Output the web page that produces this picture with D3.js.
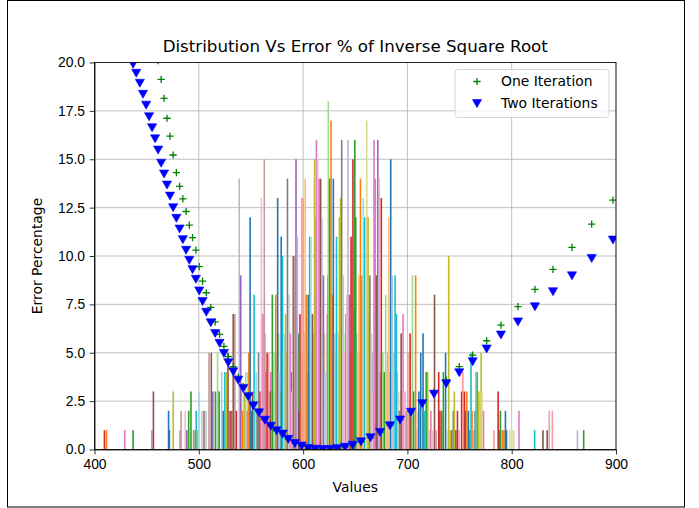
<!DOCTYPE html>
<html>
<head>
<meta charset="utf-8">
<script src="https://cdn.jsdelivr.net/npm/d3@7"></script>
<style>
  body { margin: 0; background: #fff; }
  svg { font-family: 'DejaVu Sans', sans-serif; }
  .axis text { font-size: 13.9px; fill: #000; }
  .axis path, .axis line { stroke: #000; stroke-width: 0.8; }
  .grid line { stroke: #b0b0b0; stroke-width: 0.8; }
</style>
</head>
<body>
<div id="chart"></div>
<script>
var X_TICKS = [400, 500, 600, 700, 800, 900]
var Y_TICKS = [0, 2.5, 5, 7.5, 10, 12.5, 15, 17.5, 20]

var BAR_COLORS = ['#1f77b4', '#aec7e8', '#ff7f0e', '#ffbb78', '#2ca02c', '#98df8a', '#d62728', '#ff9896',
    '#9467bd', '#c5b0d5', '#8c564b', '#c49c94', '#e377c2', '#f7b6d2', '#7f7f7f', '#c7c7c7',
    '#bcbd22', '#dbdb8d', '#17becf', '#9edae5']

// sample positions shared by both series
var sampleX = [437, 440, 443.5, 446.5, 449.5, 452.3, 455.2, 458.1, 461, 463.9,
    466.7, 469.5, 472.4, 475.4, 478.5, 481.6, 484.7, 487.8, 490.9, 494,
    497.2, 500.4, 503.6, 507.2, 511.5, 515.7, 519.9, 524.1, 528.3, 533,
    537.8, 542.6, 547.4, 552.3, 557.7, 563.3, 569, 574.6, 580.4, 585.8,
    592.2, 598.7, 605, 611.7, 618.8, 625.8, 632.8, 640.2, 647.6, 655.5,
    664.6, 673.8, 683.3, 693, 703.4, 714.3, 725.5, 737.3, 749.7, 762.6,
    776, 789.7, 806, 822.3, 839.6, 857.8, 876.7, 897.1]

var oneIteration = [27, 26, 25, 24, 23.1, 22.2, 21.3, 20.5, 20.1, 19.13,
    18.15, 17.12, 16.2, 15.22, 14.31, 13.6, 12.95, 12.3, 11.6, 10.95,
    10.3, 9.45, 8.7, 8.1, 7.35, 6.6, 5.95, 5.33, 4.8, 4.28,
    3.73, 3.25, 2.8, 2.33, 1.95, 1.55, 1.23, 0.98, 0.81, 0.54,
    0.32, 0.18, 0.06, 0.02, 0, 0.01, 0.05, 0.12, 0.23, 0.4,
    0.61, 0.89, 1.24, 1.55, 1.97, 2.43, 2.95, 3.59, 4.28, 4.88,
    5.62, 6.43, 7.38, 8.28, 9.31, 10.45, 11.65, 12.89]

var twoIterations = [19.92, 19.45, 18.93, 18.36, 17.8, 17.2, 16.63, 16.06, 15.48, 14.8,
    14.24, 13.67, 13.1, 12.5, 11.95, 11.4, 10.85, 10.3, 9.78, 9.3,
    8.8, 8.2, 7.65, 7.1, 6.55, 6.0, 5.49, 4.97, 4.49, 4.02,
    3.59, 3.16, 2.73, 2.26, 1.9, 1.52, 1.21, 0.97, 0.8, 0.53,
    0.32, 0.18, 0.06, 0.02, 0, 0.01, 0.05, 0.12, 0.23, 0.4,
    0.61, 0.89, 1.23, 1.53, 1.93, 2.37, 2.86, 3.4, 3.97, 4.54,
    5.2, 5.92, 6.6, 7.38, 8.16, 8.98, 9.88, 10.83]

// short histogram bars filling the base of the distribution: [value, count, colour index]
var lowBars = [
    [541, 3, 17], [544, 2, 7], [547, 4, 13], [551.5, 3, 10], [555, 4, 19], [559, 2, 15],
    [563.5, 6, 7], [566, 3, 16], [569, 4, 12], [571.3, 3, 18], [574.5, 5, 9], [576.5, 6, 5],
    [578, 3, 17], [582.5, 4, 7], [584, 5, 3], [588.5, 4, 0], [595.3, 6, 4], [599.5, 5, 16],
    [601, 6, 11], [604, 4, 13], [608.2, 5, 5], [610, 6, 7], [613.4, 7, 1], [617.5, 5, 3],
    [620.3, 6, 17], [623.2, 7, 11], [627.5, 6, 13], [631.3, 5, 9], [635.4, 6, 7], [640.4, 6, 5],
    [645.2, 5, 17], [648.7, 7, 19], [651.3, 6, 1], [654.2, 5, 11], [658.3, 6, 5], [663.2, 7, 3],
    [666.3, 5, 9], [673.3, 5, 17], [677.3, 4, 13], [681.2, 5, 7], [683, 4, 15], [686.3, 3, 11],
    [690.3, 4, 5], [693.3, 3, 17], [696.4, 2, 9], [698, 3, 19], [701.5, 2, 15], [705.4, 2, 1],
    [708.7, 1, 13], [710.3, 2, 7]
]

// histogram bars: [value, count, colour index]
var bars = [
    [409.5, 1, 6], [411.5, 1, 2], [429, 1, 12], [437, 1, 4], [455, 1, 12], [456.5, 3, 10],
    [471, 2, 0], [471.8, 1, 0], [475.5, 3, 16], [482, 1, 12], [483, 2, 11], [487, 2, 13],
    [488.5, 1, 8], [490.3, 2, 4], [492.5, 3, 4], [495, 1, 2], [496.6, 1, 18], [497.5, 2, 18],
    [498.5, 1, 16], [500.2, 3, 19], [503, 2, 15], [505, 2, 14], [507, 2, 15], [509.8, 5, 11],
    [512, 5, 10], [513.5, 3, 8], [516, 3, 4], [518, 5, 5], [519.5, 3, 4], [522, 4, 1],
    [523.5, 2, 0], [525, 4, 18], [526.5, 4, 16], [528, 5, 10], [530, 2, 6], [531.5, 2, 14],
    [533, 7, 10], [534.6, 7, 11], [536, 2, 6], [538.8, 14, 9], [540.2, 9, 8], [542, 2, 2],
    [543.5, 3, 16], [545, 4, 5], [546.5, 2, 12], [548, 5, 2], [549.2, 12, 0], [550.8, 2, 0],
    [553, 8, 18], [554.5, 3, 17], [556, 2, 14], [557.3, 5, 14], [558.8, 3, 6], [560, 13, 13],
    [561.5, 7, 12], [562.8, 15, 11], [564.2, 4, 12], [565.5, 5, 6], [567, 5, 7], [568.5, 3, 10],
    [570.5, 8, 4], [572, 5, 5], [573.8, 8, 2], [575.6, 13, 0], [577, 4, 1], [579, 11, 0],
    [580.3, 10, 18], [581.8, 6, 19], [583.2, 7, 16], [585, 14, 14], [586.5, 8, 15], [587.8, 6, 12],
    [589, 3, 13], [590.6, 10, 10], [591.8, 10, 11], [593.2, 15, 8], [594.5, 11, 9], [596, 2, 10],
    [597, 7, 6], [598.7, 13, 7], [600.2, 13, 7], [602, 14, 3], [603.2, 8, 2], [605, 8, 0],
    [606.3, 11, 18], [607.5, 11, 19], [609, 7, 10], [611, 15, 16], [612, 12, 16], [612.8, 16, 12],
    [614, 15, 13], [615.3, 14, 12], [616.8, 14, 10], [618, 12, 9], [619.5, 9, 8], [621, 4, 1],
    [622.5, 6, 15], [624, 9, 6], [625, 11, 6], [624.2, 18, 5], [625.5, 14, 4], [626.8, 17, 2],
    [628, 8, 2], [629, 14, 0], [630.5, 6, 1], [632, 11, 18], [633.5, 6, 19], [634.8, 12, 16],
    [636, 13, 16], [637, 16, 14], [638.5, 9, 15], [639.8, 5, 13], [641, 7, 12], [642, 8, 13],
    [643, 16, 9], [644.5, 8, 8], [646, 11, 6], [647.8, 15, 6], [649.6, 16, 4], [650.5, 12, 4],
    [652, 5, 5], [653.5, 9, 3], [655, 14, 2], [656.3, 9, 2], [657.7, 13, 19], [659, 12, 18],
    [660.3, 8, 17], [661, 17, 17], [662.3, 12, 16], [664, 9, 14], [665.5, 6, 15], [667, 3, 13],
    [668, 16, 12], [669.2, 14, 12], [670.3, 9, 10], [671.6, 16, 8], [672.8, 14, 9], [674, 4, 11],
    [675, 13, 6], [676.5, 5, 5], [678, 4, 4], [679.2, 8, 5], [680.5, 4, 3], [682, 12, 3],
    [684, 15, 0], [685.5, 9, 1], [687, 5, 19], [688.2, 9, 18], [689.5, 7, 18], [691, 3, 15],
    [692.5, 2, 14], [694, 6, 10], [695.8, 7, 12], [697, 3, 13], [699, 2, 11], [700.5, 5, 7],
    [702.6, 6, 6], [703.5, 2, 10], [704.8, 9, 5], [706, 3, 4], [707.9, 9, 2], [709.5, 1, 3],
    [711, 3, 0], [712.8, 5, 0], [714, 2, 1], [715, 6, 0], [716.5, 2, 18], [718, 4, 4],
    [719.5, 4, 16], [721, 1, 15], [722.5, 2, 12], [724, 1, 13], [726, 8, 10], [727.5, 1, 11],
    [730, 4, 6], [731.2, 2, 6], [733, 2, 4], [734.5, 4, 4], [736.6, 5, 0], [737.8, 1, 1],
    [739.6, 10, 16], [741, 1, 16], [742.5, 1, 14], [744, 2, 14], [745, 3, 16], [746.5, 1, 10],
    [748, 2, 6], [749.5, 1, 7], [752, 3, 6], [753.2, 4, 7], [754.7, 3, 6], [755.5, 2, 10],
    [757, 3, 2], [758.5, 2, 0], [760, 1, 4], [761, 5, 18], [762, 2, 2], [763.5, 1, 7],
    [765, 2, 0], [765.8, 4, 16], [767, 4, 18], [768.5, 3, 16], [770.7, 5, 16], [771.5, 3, 17],
    [773, 2, 12], [783, 1, 7], [787, 3, 6], [788.5, 1, 4], [789.2, 2, 4], [791, 1, 2],
    [792.5, 1, 2], [794, 2, 0], [795, 1, 0], [798, 1, 17], [800, 1, 17], [802, 1, 17],
    [807, 2, 12], [822, 1, 18], [830, 1, 10], [834, 1, 10], [836, 2, 9], [839, 2, 7],
    [863, 1, 9], [869, 1, 4]
]

var margin = { top: 62.5, right: 83, bottom: 58.5, left: 94.5 }
var width = 699 - margin.left - margin.right
var height = 508 - margin.top - margin.bottom

var svg = d3.select('#chart').append('svg')
    .attr('width', 699)
    .attr('height', 508)

// outer frame of the picture
svg.append('rect')
    .attr('x', 7.5).attr('y', 0.5)
    .attr('width', 677).attr('height', 506.5)
    .attr('fill', 'none')
    .attr('stroke', '#000')
    .attr('stroke-width', 1)

var g = svg.append('g')
    .attr('transform', 'translate(' + margin.left + ',' + margin.top + ')')

var x = d3.scaleLinear().domain([400, 900]).range([0, width])
var y = d3.scaleLinear().domain([0, 20]).range([height, 0])
var color = d3.scaleOrdinal(d3.range(20), BAR_COLORS)

g.append('defs').append('clipPath').attr('id', 'clip')
    .append('rect').attr('width', width).attr('height', height)

// grid
g.append('g').attr('class', 'grid')
    .selectAll('line').data(X_TICKS).enter().append('line')
    .attr('x1', x).attr('x2', x).attr('y1', 0).attr('y2', height)
g.append('g').attr('class', 'grid')
    .selectAll('line').data(Y_TICKS).enter().append('line')
    .attr('y1', y).attr('y2', y).attr('x1', 0).attr('x2', width)

var plot = g.append('g').attr('clip-path', 'url(#clip)')

var barW = 1.6
plot.selectAll('.bar').data(lowBars.concat(bars)).enter().append('rect')
    .attr('class', 'bar')
    .attr('x', function (d) { return x(d[0]) - barW / 2 })
    .attr('y', function (d) { return y(d[1]) })
    .attr('width', barW)
    .attr('height', function (d) { return y(0) - y(d[1]) })
    .attr('fill', function (d) { return color(d[2]) })

var tri = 'M-4.6,-3.9L4.6,-3.9L0,4.1Z'
var plusPath = 'M-3.6,0H3.6M0,-3.6V3.6'

plot.selectAll('.one').data(sampleX).enter().append('path')
    .attr('class', 'one')
    .attr('d', plusPath)
    .attr('stroke', 'green')
    .attr('stroke-width', 1.3)
    .attr('transform', function (d, i) { return 'translate(' + x(d) + ',' + y(oneIteration[i]) + ')' })

plot.selectAll('.two').data(sampleX).enter().append('path')
    .attr('class', 'two')
    .attr('d', tri)
    .attr('fill', 'blue')
    .attr('stroke', 'blue')
    .attr('stroke-width', 0.6)
    .attr('stroke-linejoin', 'round')
    .attr('transform', function (d, i) { return 'translate(' + x(d) + ',' + y(twoIterations[i]) + ')' })

// axes
g.append('g').attr('class', 'axis')
    .attr('transform', 'translate(0,' + height + ')')
    .call(d3.axisBottom(x).tickValues(X_TICKS).tickSize(4.9).tickPadding(4.5).tickSizeOuter(0))
g.append('g').attr('class', 'axis')
    .call(d3.axisLeft(y).tickValues(Y_TICKS).tickFormat(d3.format('.1f')).tickSize(4.9).tickPadding(4.5).tickSizeOuter(0))

g.append('rect')
    .attr('width', width).attr('height', height)
    .attr('fill', 'none').attr('stroke', '#000').attr('stroke-width', 0.8)

svg.append('text')
    .attr('x', margin.left + width / 2).attr('y', 52)
    .attr('text-anchor', 'middle')
    .style('font-size', '16.7px')
    .text('Distribution Vs Error % of Inverse Square Root')

svg.append('text')
    .attr('x', margin.left + width / 2).attr('y', 492)
    .attr('text-anchor', 'middle')
    .style('font-size', '13.9px')
    .text('Values')

svg.append('text')
    .attr('transform', 'translate(42,' + (margin.top + height / 2) + ') rotate(-90)')
    .attr('text-anchor', 'middle')
    .style('font-size', '13.9px')
    .text('Error Percentage')

// legend
var legend = g.append('g').attr('transform', 'translate(' + (width - 161) + ',7)')
legend.append('rect')
    .attr('width', 154).attr('height', 48).attr('rx', 3)
    .attr('fill', '#fff').attr('fill-opacity', 0.8)
    .attr('stroke', '#ccc').attr('stroke-width', 0.8)
legend.append('path').attr('d', plusPath)
    .attr('stroke', 'green').attr('stroke-width', 1.3)
    .attr('transform', 'translate(22,12)')
legend.append('path').attr('d', tri).attr('fill', 'blue')
    .attr('stroke', 'blue').attr('stroke-width', 0.6)
    .attr('transform', 'translate(22,34)')
legend.append('text').attr('x', 46).attr('y', 16.5).style('font-size', '13.9px').text('One Iteration')
legend.append('text').attr('x', 46).attr('y', 38.5).style('font-size', '13.9px').text('Two Iterations')
</script>
</body>
</html>
